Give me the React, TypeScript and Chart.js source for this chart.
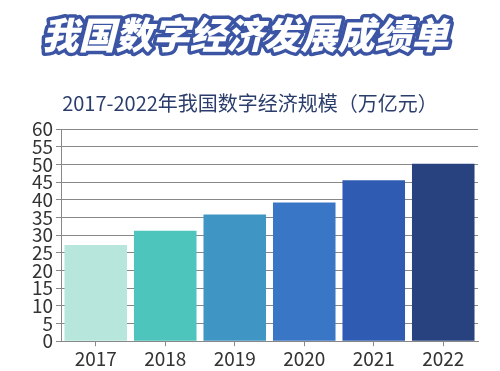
import React, { useEffect, useRef } from "react";
import { Chart, registerables } from "chart.js";

Chart.register(...registerables);

const headerText = "我国数字经济发展成绩单";
const subtitleText = "2017-2022年我国数字经济规模（万亿元）";
const categories = ["2017", "2018", "2019", "2020", "2021", "2022"];
const values = [27.2, 31.2, 35.8, 39.2, 45.5, 50.2];
const barColors = ["#b7e6dc", "#4dc5bd", "#3f96c5", "#3a76c6", "#2f5bb2", "#27427f"];

const FONT = "'Noto Sans CJK SC', 'Noto Sans', sans-serif";

const headerPlugin = {
  id: "headerPlugin",
  beforeDraw(chart: any) {
    const ctx = chart.ctx;
    ctx.save();
    ctx.fillStyle = "#ffffff";
    ctx.fillRect(0, 0, chart.width, chart.height);
    // header
    ctx.font = `italic 900 37px ${FONT}`;
    ctx.textAlign = "center";
    ctx.textBaseline = "middle";
    ctx.lineJoin = "round";
    ctx.lineWidth = 7;
    ctx.strokeStyle = "#3b55a4";
    ctx.strokeText(headerText, 245, 35);
    ctx.fillStyle = "#ffffff";
    ctx.fillText(headerText, 245, 35);
    // subtitle
    ctx.font = `400 20px ${FONT}`;
    ctx.fillStyle = "#2b3d6b";
    ctx.fillText(subtitleText, 250, 103);
    ctx.restore();
  },
};

export default function App() {
  const ref = useRef<HTMLCanvasElement | null>(null);
  useEffect(() => {
    if (!ref.current) return;
    const chart = new Chart(ref.current, {
      type: "bar",
      data: {
        labels: categories,
        datasets: [
          {
            data: values,
            backgroundColor: barColors,
            borderWidth: 0,
            categoryPercentage: 1,
            barPercentage: 0.9,
          },
        ],
      },
      options: {
        animation: false,
        responsive: false,
        maintainAspectRatio: false,
        layout: { padding: { top: 129, right: 22, left: 0, bottom: 0 } },
        plugins: {
          legend: { display: false },
          tooltip: { enabled: false },
          title: { display: false },
        },
        scales: {
          x: {
            grid: {
              offset: false,
              drawOnChartArea: false,
              drawTicks: true,
              tickLength: 5,
              color: "#888888",
            },
            border: { color: "#888888" },
            ticks: {
              color: "#333333",
              font: { family: FONT, size: 19 },
              padding: 1,
            },
          },
          y: {
            min: 0,
            max: 60,
            ticks: {
              stepSize: 5,
              autoSkip: false,
              color: "#333333",
              font: { family: FONT, size: 19, lineHeight: 1 },
              padding: 3,
            },
            grid: { color: "#888888", tickLength: 5 },
            border: { color: "#888888" },
            afterFit(scale: any) {
              scale.width = 61;
            },
          },
        },
      },
      plugins: [headerPlugin],
    });
    return () => chart.destroy();
  }, []);
  return (
    <div style={{ position: "fixed", left: 0, top: 0, width: 500, height: 371 }}>
      <canvas ref={ref} width={500} height={371} style={{ display: "block" }} />
    </div>
  );
}
